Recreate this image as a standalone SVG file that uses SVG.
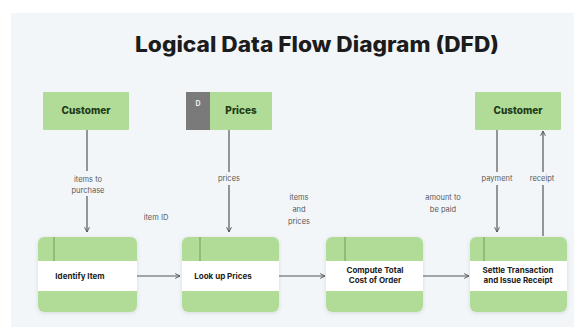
<svg xmlns="http://www.w3.org/2000/svg" width="574" height="327" viewBox="0 0 574 327">
<defs>
<marker id="ah" viewBox="0 0 10 10" refX="9" refY="5" markerWidth="6" markerHeight="6" orient="auto-start-reverse" markerUnits="userSpaceOnUse">
<path d="M1,1 L9,5 L1,9" fill="none" stroke="#555" stroke-width="1.6"/>
</marker>
<filter id="sh" x="-10%" y="-10%" width="120%" height="120%">
<feGaussianBlur in="SourceAlpha" stdDeviation="2"/>
<feOffset dy="1"/>
<feComponentTransfer><feFuncA type="linear" slope="0.12"/></feComponentTransfer>
<feMerge><feMergeNode/><feMergeNode in="SourceGraphic"/></feMerge>
</filter>
</defs>
<style>
.bg{fill:#f3f6f9}
.ent{fill:#b1dc98}
.band{fill:#b1dc98}
.card{fill:#ffffff}
.tick{stroke:#6f9c5a;stroke-width:1}
.title{font-family:Inter,"Liberation Sans",sans-serif;font-weight:800;font-size:21px;fill:#1c1c1c}
.en{font-family:Inter,"Liberation Sans",sans-serif;font-weight:800;font-size:10px;fill:#1e3a16}
.pn{font-family:Inter,"Liberation Sans",sans-serif;font-weight:700;font-size:8px;fill:#222}
.lb{font-family:Inter,"Liberation Sans",sans-serif;font-size:7.5px;fill:#5a5a5a}
.cn{fill:none;stroke:#555;stroke-width:1.2}
</style>
<rect x="0" y="0" width="574" height="327" fill="#ffffff"/>
<rect class="bg" x="11" y="13" width="563" height="314"/>
<text class="title" x="317" y="52" text-anchor="middle" textLength="364" lengthAdjust="spacingAndGlyphs">Logical Data Flow Diagram (DFD)</text>

<g id="customer1">
<rect class="ent" x="43" y="92" width="86" height="38" rx="1"/>
<text class="en" x="86" y="114" text-anchor="middle">Customer</text>
</g>
<g id="prices">
<rect class="ent" x="186" y="92" width="86" height="38" rx="1"/>
<rect x="186" y="92" width="24" height="38" fill="#7a7a7a"/>
<text x="198" y="106" text-anchor="middle" font-family="Inter, 'Liberation Sans', sans-serif" font-weight="700" font-size="7px" fill="#eeeeee">D</text>
<text class="en" x="241" y="114" text-anchor="middle">Prices</text>
</g>
<g id="customer2">
<rect class="ent" x="475" y="92" width="86" height="38" rx="1"/>
<text class="en" x="518" y="114" text-anchor="middle">Customer</text>
</g>

<g id="identify">
<rect class="card" x="38" y="237" width="99" height="75" rx="6" filter="url(#sh)"/>
<path class="band" d="M38,261 V243 A6,6 0 0 1 44,237 H131 A6,6 0 0 1 137,243 V261 Z"/>
<path class="band" d="M38,291 V306 A6,6 0 0 0 44,312 H131 A6,6 0 0 0 137,306 V291 Z"/>
<line class="tick" x1="54" y1="237" x2="54" y2="261"/>
<text class="pn" x="80" y="279" text-anchor="middle">Identify Item</text>
</g>
<g id="lookup">
<rect class="card" x="182" y="237" width="97" height="75" rx="6" filter="url(#sh)"/>
<path class="band" d="M182,261 V243 A6,6 0 0 1 188,237 H273 A6,6 0 0 1 279,243 V261 Z"/>
<path class="band" d="M182,291 V306 A6,6 0 0 0 188,312 H273 A6,6 0 0 0 279,306 V291 Z"/>
<line class="tick" x1="200" y1="237" x2="200" y2="261"/>
<text class="pn" x="223" y="279" text-anchor="middle">Look up Prices</text>
</g>
<g id="compute">
<rect class="card" x="326" y="237" width="97" height="75" rx="6" filter="url(#sh)"/>
<path class="band" d="M326,261 V243 A6,6 0 0 1 332,237 H417 A6,6 0 0 1 423,243 V261 Z"/>
<path class="band" d="M326,291 V306 A6,6 0 0 0 332,312 H417 A6,6 0 0 0 423,306 V291 Z"/>
<line class="tick" x1="345" y1="237" x2="345" y2="261"/>
<text class="pn" x="375" y="273" text-anchor="middle">Compute Total</text>
<text class="pn" x="375" y="283" text-anchor="middle">Cost of Order</text>
</g>
<g id="settle">
<rect class="card" x="470" y="237" width="97" height="75" rx="6" filter="url(#sh)"/>
<path class="band" d="M470,261 V243 A6,6 0 0 1 476,237 H561 A6,6 0 0 1 567,243 V261 Z"/>
<path class="band" d="M470,291 V306 A6,6 0 0 0 476,312 H561 A6,6 0 0 0 567,306 V291 Z"/>
<line class="tick" x1="484" y1="237" x2="484" y2="261"/>
<text class="pn" x="518" y="273" text-anchor="middle">Settle Transaction</text>
<text class="pn" x="518" y="283" text-anchor="middle">and Issue Receipt</text>
</g>

<g id="connectors">
<path class="cn" d="M87,130 V171"/>
<path class="cn" d="M87,196 V232" marker-end="url(#ah)"/>
<path class="cn" d="M229,130 V172"/>
<path class="cn" d="M229,185 V232" marker-end="url(#ah)"/>
<path class="cn" d="M497,130 V172"/>
<path class="cn" d="M497,185 V232" marker-end="url(#ah)"/>
<path class="cn" d="M543,236 V185"/>
<path class="cn" d="M543,172 V131" marker-end="url(#ah)"/>
<path class="cn" d="M137,276 H180" marker-end="url(#ah)"/>
<path class="cn" d="M279,276 H325" marker-end="url(#ah)"/>
<path class="cn" d="M423,276 H469" marker-end="url(#ah)"/>
<text class="lb" x="88" y="182" text-anchor="middle">items to</text>
<text class="lb" x="88" y="193" text-anchor="middle">purchase</text>
<text class="lb" x="229" y="181" text-anchor="middle">prices</text>
<text class="lb" x="156" y="220" text-anchor="middle">item ID</text>
<text class="lb" x="299" y="200" text-anchor="middle">items</text>
<text class="lb" x="299" y="212" text-anchor="middle">and</text>
<text class="lb" x="299" y="224" text-anchor="middle">prices</text>
<text class="lb" x="443" y="200" text-anchor="middle">amount to</text>
<text class="lb" x="443" y="212" text-anchor="middle">be paid</text>
<text class="lb" x="497" y="181" text-anchor="middle">payment</text>
<text class="lb" x="542" y="181" text-anchor="middle">receipt</text>
</g>
</svg>
